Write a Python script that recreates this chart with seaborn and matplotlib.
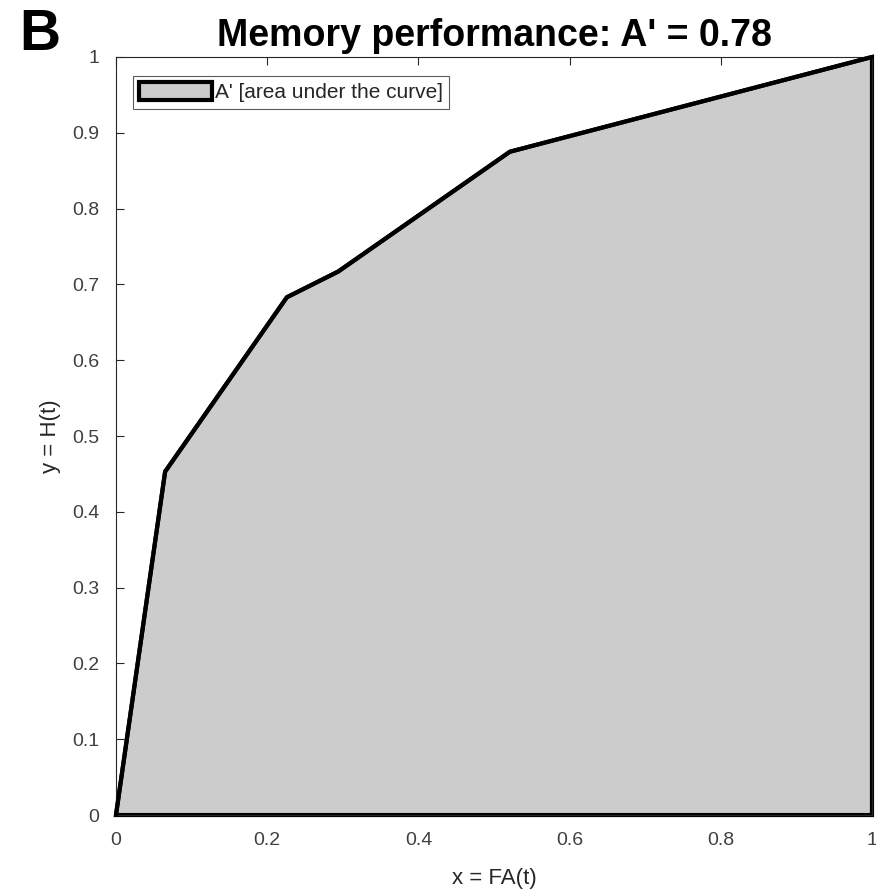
import matplotlib
matplotlib.use("Agg")
import matplotlib.pyplot as plt
import seaborn as sns
import pandas as pd

# ROC operating points: false-alarm rate vs hit rate
fa_rate = [0.0, 0.065, 0.226, 0.294, 0.521, 1.0]
hit_rate = [0.0, 0.453, 0.683, 0.717, 0.875, 1.0]

x_ticks = [0, 0.2, 0.4, 0.6, 0.8, 1]
x_tick_labels = ["0", "0.2", "0.4", "0.6", "0.8", "1"]
y_ticks = [0, 0.1, 0.2, 0.3, 0.4, 0.5, 0.6, 0.7, 0.8, 0.9, 1]
y_tick_labels = ["0", "0.1", "0.2", "0.3", "0.4", "0.5", "0.6", "0.7", "0.8", "0.9", "1"]

title_text = "Memory performance: A' = 0.78"
legend_label = "A' [area under the curve]"

sns.set_theme(style="white")
plt.rcParams["font.family"] = ["Liberation Sans", "DejaVu Sans"]

df = pd.DataFrame({"FA": fa_rate, "H": hit_rate})

fig = plt.figure(figsize=(8.76, 8.92), dpi=100)
ax = fig.add_axes([0.1324, 0.0863, 0.9954 - 0.1324, 0.9361 - 0.0863])

# Shaded area under the ROC curve, closed along the x-axis
poly_x = list(df["FA"]) + [df["FA"].iloc[-1], df["FA"].iloc[0]]
poly_y = list(df["H"]) + [0.0, 0.0]
ax.fill(poly_x, poly_y, facecolor="#cccccc", edgecolor="black",
        linewidth=3.0, label=legend_label, zorder=2, clip_on=False,
        joinstyle="miter")
sns.lineplot(data=df, x="FA", y="H", color="black", linewidth=3.0,
             ax=ax, zorder=3, legend=False, clip_on=False)

ax.set_xlim(0, 1)
ax.set_ylim(0, 1)
ax.set_xticks(x_ticks)
ax.set_xticklabels(x_tick_labels)
ax.set_yticks(y_ticks)
ax.set_yticklabels(y_tick_labels)

tick_color = "#262626"
ax.tick_params(axis="both", direction="in", length=6, width=0.8,
               colors=tick_color, labelsize=14, labelcolor="#404040",
               top=True, bottom=True, left=True, right=False)
ax.tick_params(axis="x", pad=12)
ax.tick_params(axis="y", pad=12)

for side, sp in ax.spines.items():
    sp.set_visible(True)
    sp.set_color("#262626")
    sp.set_linewidth(0.8)

ax.set_xlabel("x = FA(t)", fontsize=16, color="#262626", labelpad=14)
ax.set_ylabel("y = H(t)", fontsize=16, color="#262626", labelpad=8)
ax.set_title(title_text, fontsize=27, fontweight="bold", color="black", pad=8)

fig.text(0.022, 0.944, "B", fontsize=41, fontweight="bold", color="black",
         ha="left", va="baseline")

leg = ax.legend(loc="upper left", bbox_to_anchor=(0.022, 0.975),
                fontsize=15, frameon=True, fancybox=False, handlelength=3.5,
                handleheight=0.95, handletextpad=0.15, borderpad=0.3,
                borderaxespad=0)
leg.get_frame().set_edgecolor("#333333")
leg.get_frame().set_linewidth(0.8)

fig.savefig("out.png", dpi=100)
